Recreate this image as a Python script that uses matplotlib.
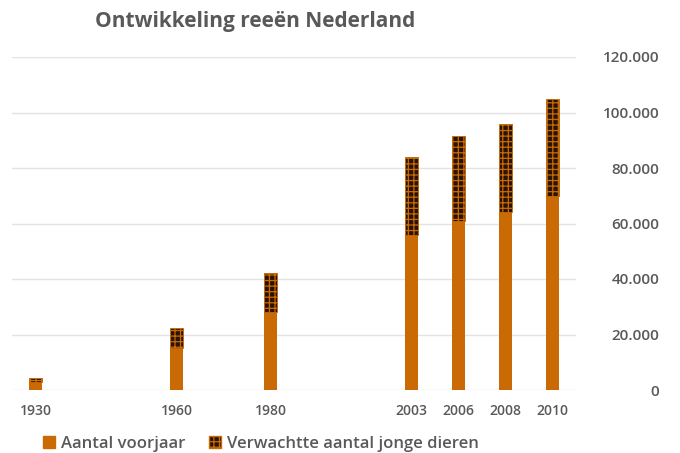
import matplotlib
matplotlib.use('Agg')
from matplotlib import pyplot as plt
from matplotlib.patches import Patch
import numpy as np

plt.rcParams['font.family'] = ['Open Sans', 'DejaVu Sans']
plt.rcParams['hatch.linewidth'] = 0.9

# category slots along the x axis (empty ones carry no data)
years = ['1930', '', '', '1960', '', '1980', '', '', '2003', '2006', '2008', '2010']
voorjaar = [3000, None, None, 15000, None, 28000, None, None, 56000, 61000, 64000, 70000]
jonge_dieren = [1200, None, None, 7300, None, 14000, None, None, 28000, 30500, 32000, 35000]

orange = '#C96A05'
dark = '#2A1300'
grey = '#595959'

x = np.arange(len(years))
v = np.array([np.nan if a is None else a for a in voorjaar], dtype=float)
j = np.array([np.nan if a is None else a for a in jonge_dieren], dtype=float)

fig = plt.figure(figsize=(6.8, 4.53), dpi=100)
ax = fig.add_axes([12 / 680, 1 - 390 / 453, 564 / 680, 333 / 453])

ax.bar(x, v, width=0.28, color=orange, zorder=2)
ax.bar(x, j, bottom=v, width=0.28, facecolor=dark, edgecolor=orange,
       hatch='+++', linewidth=0.6, zorder=2)

ax.set_xlim(-0.5, len(years) - 0.5)
ax.set_ylim(0, 120000)
ax.set_yticks(np.arange(0, 120001, 20000))
ax.set_yticklabels(['0' if t == 0 else f'{t // 1000}.000' for t in range(0, 120001, 20000)])
ax.yaxis.tick_right()
ax.tick_params(axis='y', length=0, pad=60, labelsize=11, labelcolor=grey)
for lab in ax.get_yticklabels():
    lab.set_horizontalalignment('right')
    lab.set_fontweight('semibold')

ax.set_xticks(x)
ax.set_xticklabels(years)
ax.tick_params(axis='x', length=0, pad=10, labelsize=10, labelcolor=grey)
for lab in ax.get_xticklabels():
    lab.set_fontweight('semibold')

ax.grid(axis='y', color='#E3E3E3', linewidth=1, zorder=0)
for s in ax.spines.values():
    s.set_visible(False)

fig.text(95 / 680, 1 - 22 / 453, 'Ontwikkeling reeën Nederland', fontsize=15,
         fontweight='bold', color=grey, va='center', ha='left')

handles = [Patch(facecolor=orange, edgecolor=orange),
           Patch(facecolor=dark, edgecolor=orange, hatch='+++')]
fig.legend(handles, ['Aantal voorjaar', 'Verwachtte aantal jonge dieren'],
           loc='center left', bbox_to_anchor=(28 / 680, 1 - 444 / 453), ncol=2,
           frameon=False, handlelength=0.7, handleheight=0.7,
           handletextpad=0.4, columnspacing=1.4, labelcolor=grey,
           prop={'weight': 'semibold', 'size': 12})

fig.savefig('out.png', dpi=100)
